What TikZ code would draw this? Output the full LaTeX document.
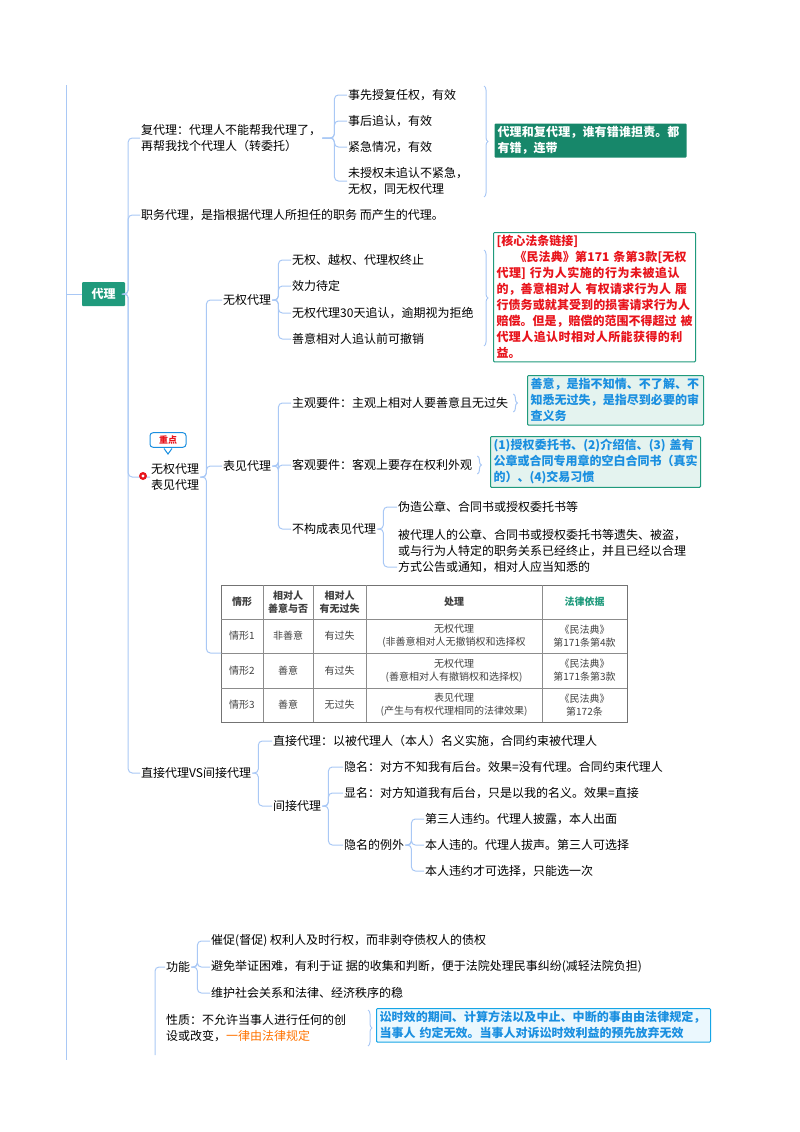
\documentclass[tikz,border=0pt]{standalone}
\usepackage{fontspec}
\setmainfont{Noto Sans CJK SC}
\XeTeXlinebreaklocale "zh"
\XeTeXlinebreakskip=0pt plus 1pt
\usetikzlibrary{positioning, decorations.pathreplacing}
\definecolor{linkblue}{HTML}{A9C8F5}
\definecolor{teal}{HTML}{1F9A7C}
\definecolor{deepteal}{HTML}{17876A}
\definecolor{boxblue}{HTML}{1A8FE0}
\definecolor{lawred}{HTML}{E8141C}
\tikzset{
    link/.style={draw=linkblue, line width=1pt, rounded corners=4pt}, % connector lines
    leaf/.style={anchor=west, inner sep=1pt, font=\fontsize{12}{16}\selectfont, align=left},
    brc/.style={draw=linkblue, line width=1pt, decorate, decoration={brace, amplitude=4pt}},
    notebox/.style={anchor=north west, inner sep=3pt, align=left, font=\bfseries\fontsize{12}{16}\selectfont, rounded corners=1pt, line width=1pt},
    cell/.style={font=\fontsize{10}{13}\selectfont, align=center, text=black!75},
    head/.style={cell, font=\bfseries\fontsize{10}{13}\selectfont},
}
\newcommand{\branch}[3]{\foreach \c in {#3} {\draw[link] (#1.east) -- ++(#2,0) |- (\c.west);}}
\begin{document}
\begin{tikzpicture}[x=1pt, y=-1pt]
\useasboundingbox (0,0) rectangle (800,1132);
% root
\draw[link] (66,85) -- (66,1060);
\node[fill=teal, text=white, font=\bfseries\fontsize{12}{16}\selectfont, minimum width=43pt, minimum height=24pt, rounded corners=1pt] (dl) at (103.5,294) {代理};
\draw[link] (66,294) -- (dl.west);
% first level
\node[leaf] (fdl) at (140,138) {复代理：代理人不能帮我代理了，\\再帮我找个代理人（转委托）};
\node[leaf] (zw) at (140,215) {职务代理，是指根据代理人所担任的职务 而产生的代理。};
\node[leaf] (wq) at (150,477) {无权代理\\表见代理};
\node[leaf] (zj) at (140,773) {直接代理VS间接代理};
\branch{dl}{3}{fdl,zw,wq,zj}
% 复代理
\node[leaf] (f1) at (347,95) {事先授复任权，有效};
\node[leaf] (f2) at (347,121) {事后追认，有效};
\node[leaf] (f3) at (347,147) {紧急情况，有效};
\node[leaf] (f4) at (347,181) {未授权未追认不紧急，\\无权，同无权代理};
\branch{fdl}{12}{f1,f2,f3,f4}
\draw[brc] (484,86) -- (484,197);
\node[notebox, fill=deepteal, text=white, text width=186pt] (fn) at (494,123) {代理和复代理，谁有错谁担责。都有错，连带};
% 无权代理表见代理
\fill[lawred] (143,476) circle (4pt); \fill[white] (143,476) circle (1.6pt);
\node[draw=boxblue, fill=white, line width=1pt, rounded corners=3pt, text=lawred, font=\bfseries\fontsize{9}{11}\selectfont, inner sep=3pt, minimum width=36pt] (zd) at (168,440) {重点};
\draw[boxblue, line width=1pt, fill=white] (164,448.5) -- (168,454) -- (172,448.5);
\node[leaf] (wqdl) at (222,300) {无权代理};
\node[leaf] (bjdl) at (222,466) {表见代理};
\node[inner sep=0pt] (tb) at (223,653) {};
\branch{wq}{6}{wqdl,bjdl,tb}
\node[leaf] (w1) at (291,260) {无权、越权、代理权终止};
\node[leaf] (w2) at (291,286) {效力待定};
\node[leaf] (w3) at (291,313) {无权代理30天追认，逾期视为拒绝};
\node[leaf] (w4) at (291,339) {善意相对人追认前可撤销};
\branch{wqdl}{6}{w1,w2,w3,w4}
\draw[brc] (484,250) -- (484,346);
\node[notebox, draw=teal, fill=white, text=lawred, text width=196pt] (wn) at (493,232) {[核心法条链接]\\\hspace*{1.5em}《民法典》第171 条第3款[无权代理] 行为人实施的行为未被追认的，善意相对人 有权请求行为人 履行债务或就其受到的损害请求行为人赔偿。但是，赔偿的范围不得超过 被代理人追认时相对人所能获得的利益。};
\node[leaf] (b1) at (291,403) {主观要件：主观上相对人要善意且无过失};
\node[leaf] (b2) at (291,465) {客观要件：客观上要存在权利外观};
\node[leaf] (b3) at (291,529) {不构成表见代理};
\branch{bjdl}{6}{b1,b2,b3}
\draw[brc] (b1.east) ++(4,-9) -- ++(0,18);
\node[notebox, draw=teal, fill=teal!12, text=boxblue, text width=170pt] (bn1) at (527,375) {善意，是指不知情、不了解、不知悉无过失，是指尽到必要的审查义务};
\draw[brc] (b2.east) ++(4,-9) -- ++(0,18);
\node[notebox, draw=teal, fill=teal!12, text=boxblue, text width=204pt] (bn2) at (490,436) {(1)授权委托书、(2)介绍信、(3) 盖有公章或合同专用章的空白合同书（真实的）、(4)交易习惯};
\node[leaf] (n1) at (397,507) {伪造公章、合同书或授权委托书等};
\node[leaf] (n2) at (397,551) {被代理人的公章、合同书或授权委托书等遗失、被盗，\\或与行为人特定的职务关系已经终止，并且已经以合理\\方式公告或通知，相对人应当知悉的};
\draw[link] (b3.east) -- ++(6,0) |- (n1.west);
\draw[link] (b3.east) -- ++(6,0) |- ([yshift=-16pt]n2.west);
% table
\draw[black!55, line width=0.8pt] (221,585) rectangle (627,722);
\foreach \yy in {619,653,688} {\draw[black!45] (221,\yy) -- (627,\yy);}
\foreach \xx in {263,313,366,542} {\draw[black!45] (\xx,585) -- (\xx,722);}
\node[head] at (242,602) {情形};
\node[head] at (288,602) {相对人\\善意与否};
\node[head] at (339.5,602) {相对人\\有无过失};
\node[head] at (454,602) {处理};
\node[head, text=teal] at (584.5,602) {法律依据};
\foreach \r/\yy/\a/\b/\c/\d in {1/636/非善意/有过失/{无权代理\\(非善意相对人无撤销权和选择权}/{《民法典》\\第171条第4款},
    2/670.5/善意/有过失/{无权代理\\(善意相对人有撤销权和选择权)}/{《民法典》\\第171条第3款},
    3/705/善意/无过失/{表见代理\\(产生与有权代理相同的法律效果)}/{《民法典》\\第172条}} {
  \node[cell] at (242,\yy) {情形\r};
  \node[cell] at (288,\yy) {\a};
  \node[cell] at (339.5,\yy) {\b};
  \node[cell] at (454,\yy) {\c};
  \node[cell] at (584.5,\yy) {\d};
}
% 直接代理VS间接代理
\node[leaf] (z1) at (272,741) {直接代理：以被代理人（本人）名义实施，合同约束被代理人};
\node[leaf] (z2) at (272,806) {间接代理};
\branch{zj}{6}{z1,z2}
\node[leaf] (j1) at (343,767) {隐名：对方不知我有后台。效果=没有代理。合同约束代理人};
\node[leaf] (j2) at (343,793) {显名：对方知道我有后台，只是以我的名义。效果=直接};
\node[leaf] (j3) at (343,845) {隐名的例外};
\branch{z2}{6}{j1,j2,j3}
\node[leaf] (e1) at (424,819) {第三人违约。代理人披露，本人出面};
\node[leaf] (e2) at (424,845) {本人违的。代理人拔声。第三人可选择};
\node[leaf] (e3) at (424,871) {本人违约才可选择，只能选一次};
\branch{j3}{6}{e1,e2,e3}
% 诉讼时效
\node[leaf] (gn) at (165,967) {功能};
\node[leaf] (xz) at (165,1028) {性质：不允许当事人进行任何的创\\设或改变，\textcolor{orange!90!red}{一律由法律规定}};
\draw[link] (155,1055) -- (155,967) -- (gn.west);
\node[leaf] (g1) at (210,941) {催促(督促) 权利人及时行权，而非剥夺债权人的债权};
\node[leaf] (g2) at (210,967) {避免举证困难，有利于证 据的收集和判断，便于法院处理民事纠纷(减轻法院负担)};
\node[leaf] (g3) at (210,993) {维护社会关系和法律、经济秩序的稳};
\branch{gn}{6}{g1,g2,g3}
\draw[brc] (368,1010) -- (368,1046);
\node[notebox, draw=boxblue!80!cyan, fill=cyan!8, text=boxblue, text width=328pt] (xn) at (376,1008) {讼时效的期间、计算方法以及中止、中断的事由由法律规定，当事人 约定无效。当事人对诉讼时效利益的预先放弃无效};
\end{tikzpicture}
\end{document}
